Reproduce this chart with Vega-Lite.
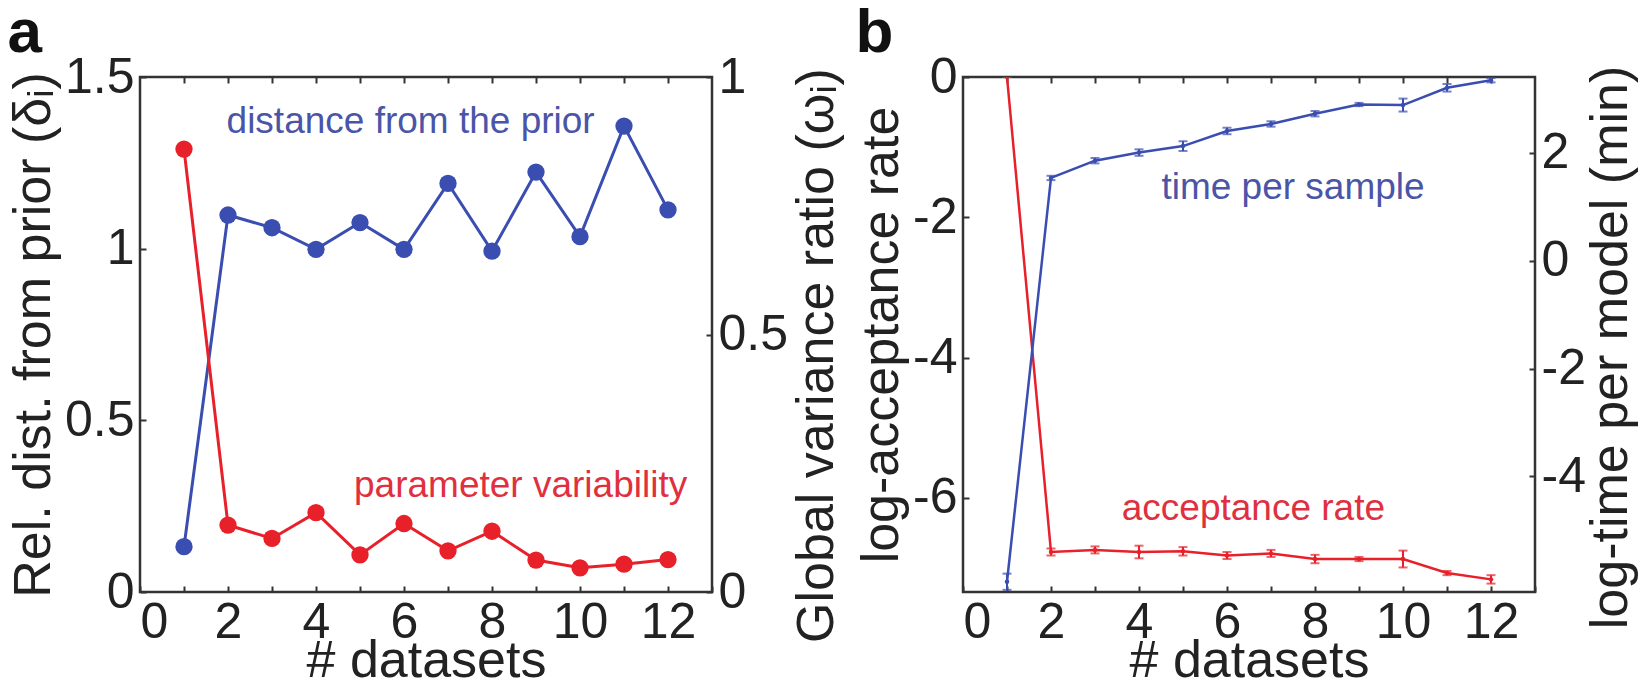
{
  "$schema": "https://vega.github.io/schema/vega-lite/v6.json",
  "padding": {"left": 6, "top": 0, "right": 0, "bottom": 0},
  "spacing": 10,
  "datasets": {
    "a": [
      {"n": 1, "delta": 0.132, "omega": 0.86},
      {"n": 2, "delta": 1.098, "omega": 0.130},
      {"n": 3, "delta": 1.061, "omega": 0.104},
      {"n": 4, "delta": 0.998, "omega": 0.154},
      {"n": 5, "delta": 1.076, "omega": 0.072},
      {"n": 6, "delta": 0.998, "omega": 0.133},
      {"n": 7, "delta": 1.19, "omega": 0.080},
      {"n": 8, "delta": 0.993, "omega": 0.118},
      {"n": 9, "delta": 1.223, "omega": 0.062},
      {"n": 10, "delta": 1.035, "omega": 0.047},
      {"n": 11, "delta": 1.357, "omega": 0.054},
      {"n": 12, "delta": 1.113, "omega": 0.063}
    ],
    "b": [
      {"n": 1, "acc": 0.0, "accLo": 0.0, "accHi": 0.0, "time": -5.95, "timeLo": -6.1, "timeHi": -5.8},
      {"n": 2, "acc": -6.77, "accLo": -6.82, "accHi": -6.72, "time": 1.53, "timeLo": 1.49, "timeHi": 1.57},
      {"n": 3, "acc": -6.74, "accLo": -6.79, "accHi": -6.69, "time": 1.85, "timeLo": 1.80, "timeHi": 1.90},
      {"n": 4, "acc": -6.77, "accLo": -6.86, "accHi": -6.68, "time": 2.0, "timeLo": 1.94, "timeHi": 2.06},
      {"n": 5, "acc": -6.76, "accLo": -6.82, "accHi": -6.70, "time": 2.12, "timeLo": 2.03, "timeHi": 2.21},
      {"n": 6, "acc": -6.82, "accLo": -6.87, "accHi": -6.77, "time": 2.4, "timeLo": 2.34, "timeHi": 2.46},
      {"n": 7, "acc": -6.79, "accLo": -6.84, "accHi": -6.74, "time": 2.53, "timeLo": 2.48, "timeHi": 2.58},
      {"n": 8, "acc": -6.87, "accLo": -6.93, "accHi": -6.81, "time": 2.72, "timeLo": 2.67, "timeHi": 2.77},
      {"n": 9, "acc": -6.87, "accLo": -6.9, "accHi": -6.84, "time": 2.89, "timeLo": 2.86, "timeHi": 2.92},
      {"n": 10, "acc": -6.87, "accLo": -6.99, "accHi": -6.75, "time": 2.88, "timeLo": 2.76, "timeHi": 3.0},
      {"n": 11, "acc": -7.07, "accLo": -7.1, "accHi": -7.04, "time": 3.2, "timeLo": 3.13, "timeHi": 3.27},
      {"n": 12, "acc": -7.16, "accLo": -7.22, "accHi": -7.1, "time": 3.34, "timeLo": 3.3, "timeHi": 3.38}
    ]
  },
  "hconcat": [
    {
      "width": 572,
      "height": 515,
      "title": {"text": "a", "offset": -13},
      "resolve": {"scale": {"y": "independent"}, "axis": {"x": "independent"}},
      "layer": [
        {
          "layer": [
            {
              "data": {"name": "a"},
              "mark": {"type": "line", "color": "#3a4db0", "strokeWidth": 3, "point": {"filled": true, "size": 300, "color": "#3a4db0", "opacity": 1}},
              "encoding": {
                "x": {"field": "n", "type": "quantitative", "scale": {"domain": [0, 13], "nice": false},
                      "axis": {"values": [0,1,2,3,4,5,6,7,8,9,10,11,12,13], "labelExpr": "datum.value % 2 == 0 && datum.value < 13 ? datum.label : ''", "title": "# datasets"}},
                "y": {"field": "delta", "type": "quantitative", "scale": {"domain": [0, 1.5], "nice": false},
                      "axis": {"values": [0, 0.5, 1, 1.5], "format": "~g", "title": "Rel. dist. from prior (δᵢ)"}}
              }
            },
            {
              "data": {"values": [{"label": "distance from the prior", "n": 6.15, "delta": 1.37}]},
              "mark": {"type": "text", "color": "#4a55a8", "fontSize": 37, "baseline": "middle", "align": "center"},
              "encoding": {
                "x": {"field": "n", "type": "quantitative",
                      "axis": {"values": [0,1,2,3,4,5,6,7,8,9,10,11,12,13], "labelExpr": "datum.value % 2 == 0 && datum.value < 13 ? datum.label : ''", "title": "# datasets"}},
                "y": {"field": "delta", "type": "quantitative",
                      "axis": {"values": [0, 0.5, 1, 1.5], "format": "~g", "title": "Rel. dist. from prior (δᵢ)"}},
                "text": {"field": "label"}
              }
            }
          ]
        },
        {
          "layer": [
            {
              "data": {"name": "a"},
              "mark": {"type": "line", "color": "#e8202a", "strokeWidth": 3, "point": {"filled": true, "size": 300, "color": "#e8202a", "opacity": 1}},
              "encoding": {
                "x": {"field": "n", "type": "quantitative", "axis": {"orient": "top", "values": [1,2,3,4,5,6,7,8,9,10,11,12], "labels": false, "title": null}},
                "y": {"field": "omega", "type": "quantitative", "scale": {"domain": [0, 1], "nice": false},
                      "axis": {"values": [0, 0.5, 1], "format": "~g", "title": "Global variance ratio (ωᵢ)", "orient": "right", "titleAngle": 270, "titleBaseline": "top", "titleY": 278}}
              }
            },
            {
              "data": {"values": [{"label": "parameter variability", "n": 8.65, "omega": 0.205}]},
              "mark": {"type": "text", "color": "#e03040", "fontSize": 37, "baseline": "middle", "align": "center"},
              "encoding": {
                "x": {"field": "n", "type": "quantitative", "axis": {"orient": "top", "values": [1,2,3,4,5,6,7,8,9,10,11,12], "labels": false, "title": null}},
                "y": {"field": "omega", "type": "quantitative",
                      "axis": {"values": [0, 0.5, 1], "format": "~g", "title": "Global variance ratio (ωᵢ)", "orient": "right", "titleAngle": 270, "titleBaseline": "top", "titleY": 278}},
                "text": {"field": "label"}
              }
            }
          ]
        }
      ]
    },
    {
      "width": 572,
      "height": 515,
      "title": {"text": "b", "offset": -13},
      "resolve": {"scale": {"y": "independent"}, "axis": {"x": "independent"}},
      "layer": [
        {
          "layer": [
            {
              "data": {"name": "b"},
              "mark": {"type": "line", "color": "#e8202a", "strokeWidth": 2.5, "clip": true, "point": {"filled": true, "size": 20, "color": "#e8202a"}},
              "encoding": {
                "x": {"field": "n", "type": "quantitative", "scale": {"domain": [0, 13], "nice": false},
                      "axis": {"values": [0,1,2,3,4,5,6,7,8,9,10,11,12,13], "labelExpr": "datum.value % 2 == 0 && datum.value < 13 ? datum.label : ''", "title": "# datasets"}},
                "y": {"field": "acc", "type": "quantitative", "scale": {"domain": [-7.34, 0], "nice": false},
                      "axis": {"values": [-6, -4, -2, 0], "labelExpr": "datum.value == 0 ? '0' : '-' + abs(datum.value)", "title": "log-acceptance rate"}}
              }
            },
            {
              "data": {"name": "b"},
              "mark": {"type": "errorbar", "color": "#e8202a", "thickness": 2, "ticks": {"size": 9}, "clip": true},
              "encoding": {
                "x": {"field": "n", "type": "quantitative",
                      "axis": {"values": [0,1,2,3,4,5,6,7,8,9,10,11,12,13], "labelExpr": "datum.value % 2 == 0 && datum.value < 13 ? datum.label : ''", "title": "# datasets"}},
                "y": {"field": "accLo", "type": "quantitative",
                      "axis": {"values": [-6, -4, -2, 0], "labelExpr": "datum.value == 0 ? '0' : '-' + abs(datum.value)", "title": "log-acceptance rate"}},
                "y2": {"field": "accHi"}
              }
            },
            {
              "data": {"values": [{"label": "acceptance rate", "n": 6.6, "acc": -6.15}]},
              "mark": {"type": "text", "color": "#e03040", "fontSize": 37, "baseline": "middle", "align": "center"},
              "encoding": {
                "x": {"field": "n", "type": "quantitative",
                      "axis": {"values": [0,1,2,3,4,5,6,7,8,9,10,11,12,13], "labelExpr": "datum.value % 2 == 0 && datum.value < 13 ? datum.label : ''", "title": "# datasets"}},
                "y": {"field": "acc", "type": "quantitative",
                      "axis": {"values": [-6, -4, -2, 0], "labelExpr": "datum.value == 0 ? '0' : '-' + abs(datum.value)", "title": "log-acceptance rate"}},
                "text": {"field": "label"}
              }
            }
          ]
        },
        {
          "layer": [
            {
              "data": {"name": "b"},
              "mark": {"type": "line", "color": "#3a4db0", "strokeWidth": 2.5, "clip": true, "point": {"filled": true, "size": 20, "color": "#3a4db0"}},
              "encoding": {
                "x": {"field": "n", "type": "quantitative", "axis": {"orient": "top", "values": [1,2,3,4,5,6,7,8,9,10,11,12], "labels": false, "title": null}},
                "y": {"field": "time", "type": "quantitative", "scale": {"domain": [-6.14, 3.4], "nice": false},
                      "axis": {"values": [-4, -2, 0, 2], "labelExpr": "datum.value < 0 ? '-' + abs(datum.value) : datum.value + ''", "title": "log-time per model (min)", "orient": "right", "titlePadding": 0, "titleFontSize": 52, "titleAngle": 270, "titleBaseline": "top", "titleY": 270}}
              }
            },
            {
              "data": {"name": "b"},
              "mark": {"type": "errorbar", "color": "#3a4db0", "thickness": 2, "ticks": {"size": 9}, "clip": true},
              "encoding": {
                "x": {"field": "n", "type": "quantitative", "axis": {"orient": "top", "values": [1,2,3,4,5,6,7,8,9,10,11,12], "labels": false, "title": null}},
                "y": {"field": "timeLo", "type": "quantitative",
                      "axis": {"values": [-4, -2, 0, 2], "labelExpr": "datum.value < 0 ? '-' + abs(datum.value) : datum.value + ''", "title": "log-time per model (min)", "orient": "right", "titlePadding": 0, "titleFontSize": 52, "titleAngle": 270, "titleBaseline": "top", "titleY": 270}},
                "y2": {"field": "timeHi"}
              }
            },
            {
              "data": {"values": [{"label": "time per sample", "n": 7.5, "time": 1.35}]},
              "mark": {"type": "text", "color": "#4a55a8", "fontSize": 37, "baseline": "middle", "align": "center"},
              "encoding": {
                "x": {"field": "n", "type": "quantitative", "axis": {"orient": "top", "values": [1,2,3,4,5,6,7,8,9,10,11,12], "labels": false, "title": null}},
                "y": {"field": "time", "type": "quantitative",
                      "axis": {"values": [-4, -2, 0, 2], "labelExpr": "datum.value < 0 ? '-' + abs(datum.value) : datum.value + ''", "title": "log-time per model (min)", "orient": "right", "titlePadding": 0, "titleFontSize": 52, "titleAngle": 270, "titleBaseline": "top", "titleY": 270}},
                "text": {"field": "label"}
              }
            }
          ]
        }
      ]
    }
  ],
  "config": {
    "font": "Liberation Sans",
    "view": {"stroke": "#333333", "strokeWidth": 2.5},
    "axis": {
      "labelFont": "Liberation Sans", "titleFont": "Liberation Sans",
      "labelFontSize": 50, "titleFontSize": 52, "titleFontWeight": "normal",
      "labelColor": "#222222", "titleColor": "#222222",
      "domain": false, "grid": false,
      "tickColor": "#333333", "tickSize": -6, "tickWidth": 2,
      "labelPadding": 12, "titlePadding": 4
    },
    "axisX": {"labelPadding": 11, "titlePadding": -12},
    "title": {"fontSize": 62, "fontWeight": "bold", "anchor": "start", "frame": "bounds", "font": "Liberation Sans", "color": "#111111"}
  }
}
